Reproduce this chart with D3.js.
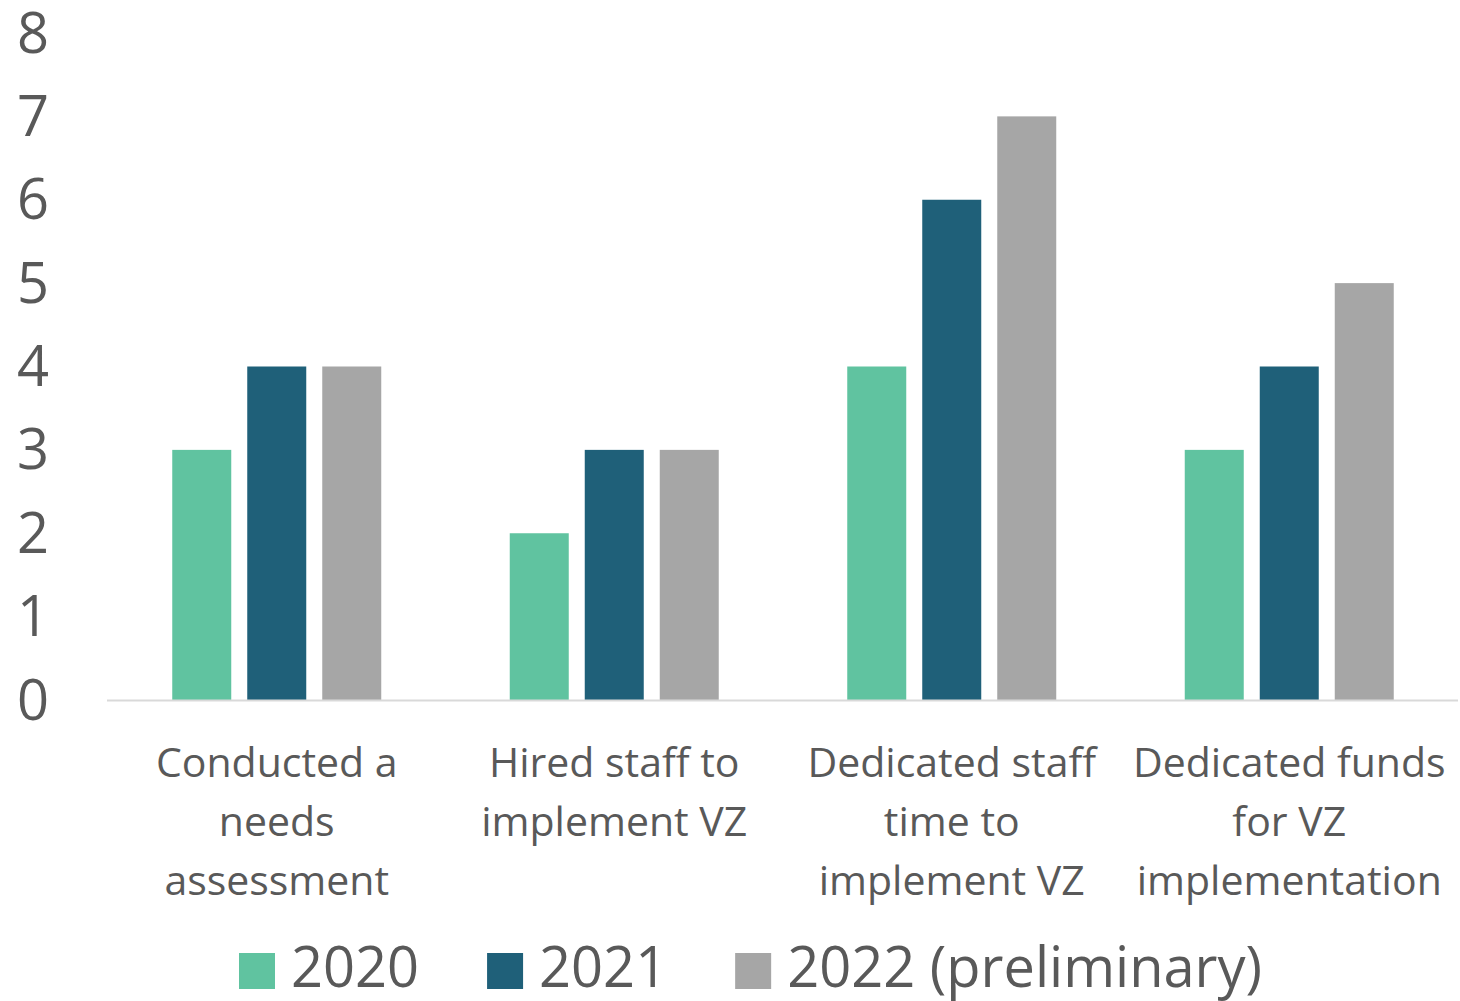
<!DOCTYPE html>
<html><head><meta charset="utf-8">
<script src="https://cdn.jsdelivr.net/npm/d3@7"></script>
<style>html,body{margin:0;padding:0;background:#fff;}svg{display:block;font-family:"Open Sans",sans-serif;}</style>
</head><body>
<svg id="c" width="1460" height="1001"></svg>
<script>
const categories = ["Conducted a needs assessment","Hired staff to implement VZ","Dedicated staff time to implement VZ","Dedicated funds for VZ implementation"];
const categoryLines = [["Conducted a","needs","assessment"],["Hired staff to","implement VZ"],["Dedicated staff","time to","implement VZ"],["Dedicated funds","for VZ","implementation"]];
const seriesNames = ["2020","2021","2022 (preliminary)"];
const values2020 = [3,2,4,3];
const values2021 = [4,3,6,4];
const values2022 = [4,3,7,5];
const yTicks = [0,1,2,3,4,5,6,7,8];
const colors = ["#60c3a0","#1f6079","#a6a6a6"];
const seriesValues = [values2020, values2021, values2022];

const svg = d3.select("#c");
const textColor = "#595959";
const x0 = d3.scaleBand().domain(categories).range([108,1458]).padding(0);
const x1 = d3.scaleBand().domain(seriesNames).range([0, x0.bandwidth()]).paddingInner(16/75).paddingOuter(0.8567);
const y = d3.scaleLinear().domain([0,8]).range([700,33]);

// y axis labels
const yAxis = d3.axisLeft(y).tickValues(yTicks).tickSize(0).tickPadding(0).tickFormat(d3.format("d"));
const ga = svg.append("g").attr("transform","translate(49,0)").call(yAxis);
ga.select(".domain").remove();
ga.selectAll("text").attr("font-family","Open Sans").attr("font-size",56).attr("fill",textColor).attr("dy","0.34em");

// bars
const groups = svg.append("g").selectAll("g").data(categories).join("g")
  .attr("transform", d => `translate(${x0(d)},0)`);
groups.selectAll("rect").data((d,i) => seriesNames.map((s,j) => ({s, v: seriesValues[j][i], c: colors[j]})))
  .join("rect")
  .attr("x", d => x1(d.s)).attr("width", x1.bandwidth())
  .attr("y", d => y(d.v)).attr("height", d => y(0) - y(d.v))
  .attr("fill", d => d.c);

// baseline
svg.append("line").attr("x1",107).attr("x2",1458).attr("y1",y(0)+0.5).attr("y2",y(0)+0.5)
  .attr("stroke","#d9d9d9").attr("stroke-width",2);

// category labels
const cl = svg.append("g");
categories.forEach((c,i) => {
  const t = cl.append("text").attr("text-anchor","middle").attr("font-size",41).attr("fill",textColor)
    .attr("x", x0(c) + x0.bandwidth()/2);
  categoryLines[i].forEach((ln,k) => {
    t.append("tspan").attr("x", x0(c) + x0.bandwidth()/2).attr("y", 777 + k*59).text(ln);
  });
});

// legend
const lg = svg.append("g");
let lx = 239;
seriesNames.forEach((s,j) => {
  lg.append("rect").attr("x",lx).attr("y",953).attr("width",36).attr("height",36).attr("fill",colors[j]);
  const t = lg.append("text").attr("x",lx+52).attr("y",987).attr("font-size",56).attr("fill",textColor).text(s);
  const w = t.node().getComputedTextLength();
  lx = lx + 52 + w + 68;
});
</script>
</body></html>
